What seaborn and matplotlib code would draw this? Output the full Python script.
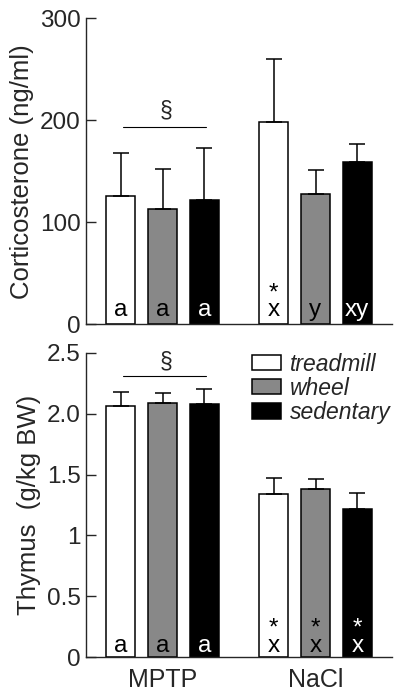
import pandas as pd
import seaborn as sns
import matplotlib.pyplot as plt
from matplotlib.patches import Patch

# data
groups = ['MPTP', 'NaCl']
conditions = ['treadmill', 'wheel', 'sedentary']
colors = ['white', '#888888', 'black']

cort_mean = {'treadmill': [126, 198], 'wheel': [113, 128], 'sedentary': [122, 159]}
cort_sd = {'treadmill': [42, 62], 'wheel': [39, 23], 'sedentary': [51, 18]}
thym_mean = {'treadmill': [2.06, 1.34], 'wheel': [2.09, 1.38], 'sedentary': [2.08, 1.22]}
thym_sd = {'treadmill': [0.12, 0.13], 'wheel': [0.08, 0.08], 'sedentary': [0.12, 0.13]}

# '*' above a letter is written as '*\nletter'
cort_letters = {'treadmill': ['a', '*\nx'], 'wheel': ['a', 'y'], 'sedentary': ['a', 'xy']}
thym_letters = {'treadmill': ['a', '*\nx'], 'wheel': ['a', '*\nx'], 'sedentary': ['a', '*\nx']}
text_colors = ['black', 'black', 'white']

sns.set_style('ticks')
plt.rcParams['font.family'] = ['Liberation Sans', 'DejaVu Sans']
FS = 17.5


def to_frame(means):
    rows = []
    for c in conditions:
        for g, v in zip(groups, means[c]):
            rows.append({'group': g, 'condition': c, 'value': v})
    return pd.DataFrame(rows)


def panel(ax, means, sds, letters, ylim, yticks, yticklabels, ylabel,
          sec_y, bracket_y, letter_y):
    df = to_frame(means)
    sns.barplot(data=df, x='group', y='value', hue='condition',
                order=groups, hue_order=conditions, palette=colors,
                width=0.82, gap=0.31, errorbar=None, legend=False,
                edgecolor='black', linewidth=1.1, saturation=1, ax=ax)
    for cont, c, tc in zip(ax.containers, conditions, text_colors):
        for bar, m, s, lab in zip(cont, means[c], sds[c], letters[c]):
            xc = bar.get_x() + bar.get_width() / 2
            ax.errorbar(xc, m, yerr=[[0], [s]], color='black', lw=1.1,
                        capsize=5.5, capthick=1.1, zorder=1)
            ax.text(xc, letter_y, lab, ha='center', va='baseline',
                    fontsize=FS, color=tc, linespacing=0.72)
    ax.plot([-0.257, 0.285], [bracket_y, bracket_y], color='black', lw=0.8)
    ax.text(0.02, sec_y, '§', ha='center', va='center', fontsize=FS - 1)
    ax.set_xlim(-0.5, 1.5)
    ax.set_ylim(*ylim)
    ax.set_yticks(yticks)
    ax.set_yticklabels(yticklabels, fontsize=FS)
    ax.set_ylabel(ylabel, fontsize=FS + 1, labelpad=4)
    ax.set_xlabel('')
    ax.tick_params(axis='y', direction='in', length=7.5, width=1, pad=4)
    ax.tick_params(axis='x', length=0, labelsize=FS + 0.5, pad=8)
    for sp in ['left', 'bottom']:
        ax.spines[sp].set_linewidth(1)
    sns.despine(ax=ax)


fig = plt.figure(figsize=(4, 6.98), dpi=100)
ax1 = fig.add_axes([0.215, 0.5358, 0.765, 0.438])
ax2 = fig.add_axes([0.215, 0.0583, 0.765, 0.4364])

panel(ax1, cort_mean, cort_sd, cort_letters, (0, 300), [0, 100, 200, 300],
      ['0', '100', '200', '300'], 'Corticosterone (ng/ml)',
      sec_y=209, bracket_y=193.5, letter_y=7.5)
ax1.set_xticklabels(['', ''])

panel(ax2, thym_mean, thym_sd, thym_letters, (0, 2.5),
      [0, 0.5, 1, 1.5, 2.0, 2.5], ['0', '0.5', '1', '1.5', '2.0', '2.5'],
      'Thymus  (g/kg BW)',
      sec_y=2.42, bracket_y=2.31, letter_y=0.045)

handles = [Patch(facecolor=c, edgecolor='black', linewidth=1.1) for c in colors]
ax2.legend(handles, conditions, loc='upper left', bbox_to_anchor=(0.5415, 1.0),
           frameon=False, borderpad=0, borderaxespad=0, handlelength=1.27,
           handleheight=0.65, handletextpad=0.4, labelspacing=0.05,
           prop={'size': 16.5, 'style': 'italic', 'family': 'Liberation Sans'})

fig.savefig('out.png', dpi=100)
